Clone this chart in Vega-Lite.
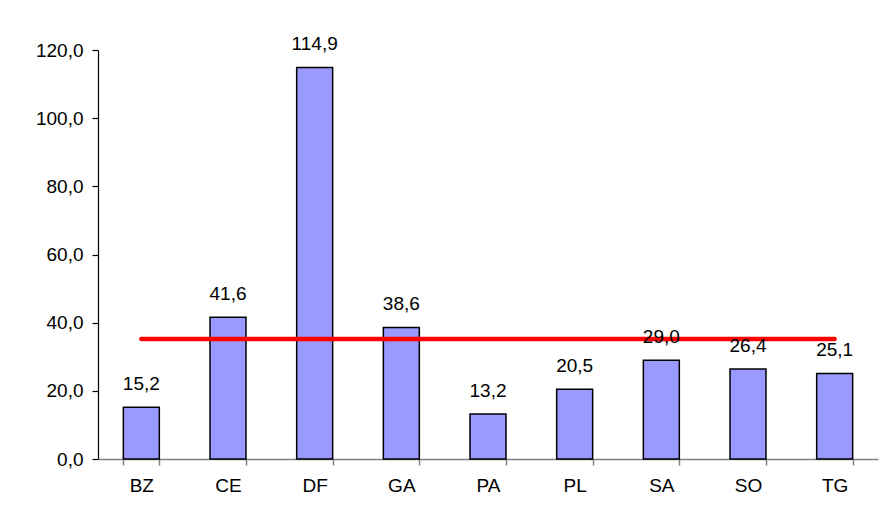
{
  "$schema": "https://vega.github.io/schema/vega-lite/v6.json",
  "autosize": {"type": "none"},
  "width": 780,
  "height": 409,
  "padding": {"left": 98, "top": 50, "right": 6, "bottom": 59},
  "background": "white",
  "config": {
    "view": {"stroke": null},
    "locale": {"number": {"decimal": ",", "thousands": ".", "grouping": [3], "currency": ["R$", ""]}},
    "font": "Liberation Sans"
  },
  "data": {
    "values": [
      {"uf": "BZ", "valor": 15.2, "media": 35.2},
      {"uf": "CE", "valor": 41.6, "media": 35.2},
      {"uf": "DF", "valor": 114.9, "media": 35.2},
      {"uf": "GA", "valor": 38.6, "media": 35.2},
      {"uf": "PA", "valor": 13.2, "media": 35.2},
      {"uf": "PL", "valor": 20.5, "media": 35.2},
      {"uf": "SA", "valor": 29.0, "media": 35.2},
      {"uf": "SO", "valor": 26.4, "media": 35.2},
      {"uf": "TG", "valor": 25.1, "media": 35.2}
    ]
  },
  "encoding": {
    "x": {
      "field": "uf", "type": "nominal", "sort": null,
      "scale": {"paddingInner": 0.585, "paddingOuter": 0.2925},
      "axis": {
        "title": null, "labelAngle": 0, "labelFontSize": 19, "labelColor": "black",
        "labelPadding": 11, "tickBand": "extent", "tickSize": 6,
        "domainColor": "#808080", "tickColor": "#808080", "domainWidth": 1.5, "tickWidth": 1.5
      }
    }
  },
  "layer": [
    {
      "mark": {"type": "bar", "fill": "#9999FF", "stroke": "black", "strokeWidth": 1.5},
      "encoding": {
        "y": {
          "field": "valor", "type": "quantitative",
          "scale": {"domain": [0, 120], "nice": false},
          "axis": {
            "title": null, "values": [0, 20, 40, 60, 80, 100, 120], "format": ".1f",
            "labelFontSize": 19, "labelColor": "black", "labelPadding": 9, "tickSize": 6,
            "grid": false, "domainColor": "black", "tickColor": "black", "domainWidth": 1.2, "tickWidth": 1.2
          }
        }
      }
    },
    {
      "mark": {"type": "line", "color": "#FF0000", "strokeWidth": 4.5, "strokeCap": "round"},
      "encoding": {"y": {"field": "media", "type": "quantitative"}}
    },
    {
      "mark": {"type": "text", "fontSize": 19, "color": "black", "baseline": "alphabetic", "dy": -17},
      "encoding": {
        "y": {"field": "valor", "type": "quantitative"},
        "text": {"field": "valor", "type": "quantitative", "format": ".1f"}
      }
    }
  ]
}
